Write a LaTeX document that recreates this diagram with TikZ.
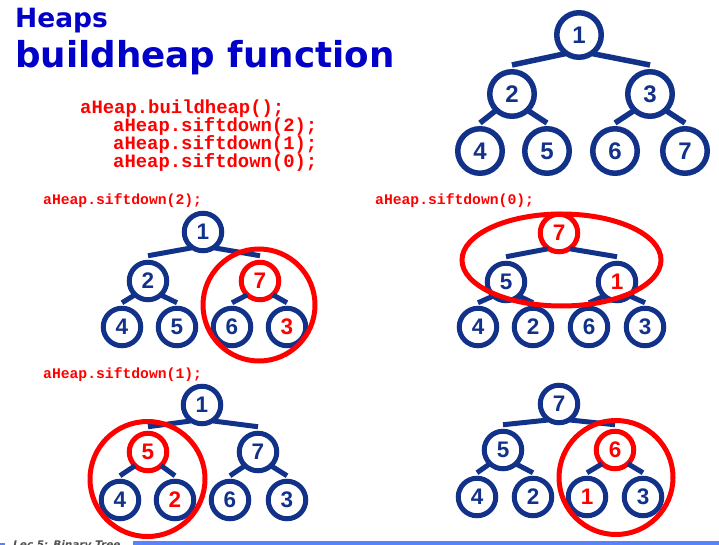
\documentclass[tikz,border=0pt]{standalone}
\usepackage{fontspec}
\setmainfont{Liberation Sans}
\newfontfamily\titlefont{DejaVu Sans}
\newfontfamily\codefont{Liberation Mono}
\definecolor{navy}{RGB}{18,50,138}
\definecolor{hred}{RGB}{255,0,0}
\definecolor{titleblue}{RGB}{0,0,200}
\definecolor{barblue}{RGB}{90,130,250}
\definecolor{footgray}{RGB}{80,80,80}

\tikzset{
  bignode/.style={circle, draw=navy, fill=white, line width=5.5pt, minimum size=44.5pt,
    inner sep=0pt, text=navy, font=\fontsize{24}{24}\selectfont\bfseries},
  smallnode/.style={circle, draw=navy, fill=white, line width=5pt, minimum size=37.5pt,
    inner sep=0pt, text=navy, font=\fontsize{22.5}{22.5}\selectfont\bfseries},
  hot/.style={draw=hred, text=hred},
  hottext/.style={text=hred},
  bigedge/.style={draw=navy, line width=5.5pt, shorten <=-2.5pt},
  smalledge/.style={draw=navy, line width=5pt, shorten <=-2.5pt},
  ring/.style={draw=hred, line width=5pt},
  codeline/.style={anchor=base west, inner sep=0pt, text=hred,
    font=\codefont\bfseries\fontsize{18.9}{18.9}\selectfont},
  steplabel/.style={anchor=base west, inner sep=0pt, text=hred,
    font=\codefont\bfseries\fontsize{14.7}{14.7}\selectfont},
  titletext/.style={anchor=base west, inner sep=0pt, text=titleblue},
}

\begin{document}
\begin{tikzpicture}[x=1pt,y=-1pt]
\useasboundingbox (0,0) rectangle (719,545);
\fill[white] (0,0) rectangle (719,545);

% title
\node[titletext, font=\titlefont\bfseries\fontsize{26.5}{26.5}\selectfont] (heading) at (15,28) {Heaps};
\node[titletext, font=\titlefont\bfseries\fontsize{35.7}{35.7}\selectfont] (subheading) at (15,68) {buildheap function};

% call sequence
\node[codeline] (call0) at (80,114) {aHeap.buildheap();};
\node[codeline] (call1) at (113,132) {aHeap.siftdown(2);};
\node[codeline] (call2) at (113,150) {aHeap.siftdown(1);};
\node[codeline] (call3) at (113,167.5) {aHeap.siftdown(0);};

% step labels
\node[steplabel] (labA) at (43,205) {aHeap.siftdown(2);};
\node[steplabel] (labB) at (375,205) {aHeap.siftdown(0);};
\node[steplabel] (labC) at (43,378) {aHeap.siftdown(1);};

% initial tree
\node[bignode] (t1) at (579,35) {1};
\node[bignode] (t2) at (512,94) {2};
\node[bignode] (t3) at (650,94) {3};
\node[bignode] (t4) at (480,151) {4};
\node[bignode] (t5) at (547,151) {5};
\node[bignode] (t6) at (615,151) {6};
\node[bignode] (t7) at (685,151) {7};

% after siftdown(2)
\node[smallnode] (a1) at (203,232) {1};
\node[smallnode] (a2) at (148,281) {2};
\node[smallnode, hot] (a3) at (260,281) {7};
\node[smallnode] (a4) at (122,327) {4};
\node[smallnode] (a5) at (177,327) {5};
\node[smallnode] (a6) at (232,327) {6};
\node[smallnode, hottext] (a7) at (287,327) {3};

% after siftdown(0)
\node[smallnode, hot] (b1) at (559,233) {7};
\node[smallnode] (b2) at (506,282) {5};
\node[smallnode, hottext] (b3) at (617,282) {1};
\node[smallnode] (b4) at (478,327) {4};
\node[smallnode] (b5) at (533,327) {2};
\node[smallnode] (b6) at (589,327) {6};
\node[smallnode] (b7) at (645,327) {3};

% after siftdown(1)
\node[smallnode] (c1) at (202,405) {1};
\node[smallnode, hot] (c2) at (148,452) {5};
\node[smallnode] (c3) at (258,452) {7};
\node[smallnode] (c4) at (120,500) {4};
\node[smallnode, hottext] (c5) at (175,500) {2};
\node[smallnode] (c6) at (230,500) {6};
\node[smallnode] (c7) at (287,500) {3};

% final heap
\node[smallnode] (d1) at (559,404) {7};
\node[smallnode] (d2) at (503,450) {5};
\node[smallnode, hot] (d3) at (615,450) {6};
\node[smallnode] (d4) at (477,497) {4};
\node[smallnode] (d5) at (533,497) {2};
\node[smallnode, hottext] (d6) at (587,497) {1};
\node[smallnode] (d7) at (643,497) {3};

% tree edges
\foreach \p/\e in {t/bigedge, a/smalledge, b/smalledge, c/smalledge, d/smalledge} {
  \draw[\e] (\p1.230) -- ([yshift=4pt]\p2.north);
  \draw[\e] (\p1.310) -- ([yshift=4pt]\p3.north);
  \draw[\e] (\p2.225) -- ([yshift=3pt]\p4.north);
  \draw[\e] (\p2.315) -- ([yshift=3pt]\p5.north);
  \draw[\e] (\p3.225) -- ([yshift=3pt]\p6.north);
  \draw[\e] (\p3.315) -- ([yshift=3pt]\p7.north);
}

% highlighted subtrees
\draw[ring] (259,305) circle[radius=56];
\draw[ring] (561.5,260) ellipse[x radius=99.5, y radius=46];
\draw[ring] (147.5,479) circle[radius=57.5];
\draw[ring] (616,477.5) circle[radius=57];

% footer
\begin{scope}
  \clip (0,0) rectangle (719,545);
  \fill[barblue] (0,542.5) rectangle (5,545);
  \fill[barblue] (133,541) rectangle (719,545);
  \node[anchor=base west, inner sep=0pt, text=footgray,
    font=\titlefont\bfseries\itshape\fontsize{10.5}{10.5}\selectfont] (footer) at (13,548) {Lec 5: Binary Tree};
\end{scope}
\end{tikzpicture}
\end{document}
